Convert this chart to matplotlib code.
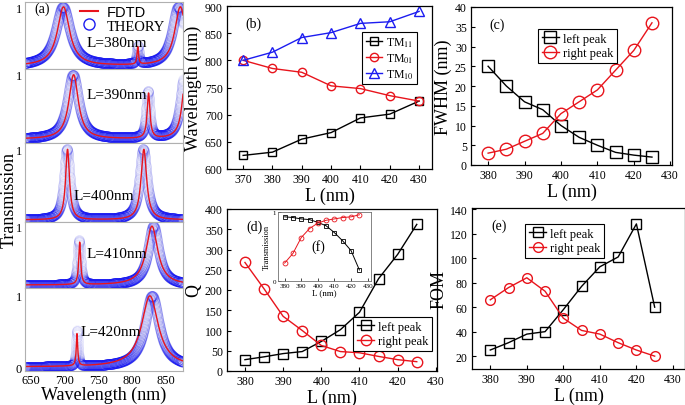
import numpy as np
import matplotlib.pyplot as plt
from matplotlib.lines import Line2D

plt.rcParams['font.family'] = ['Liberation Serif', 'DejaVu Serif']
plt.rcParams['mathtext.fontset'] = 'stix'

W, H = 685, 406
RED = '#e8141c'
BLUE = '#1c1cf0'

# ---- panel (a): transmission spectra, peaks (center, fwhm, height)
a_L = [380, 390, 400, 410, 420]
a_theory = [
    [(697, 26, 1.0), (808, 3.5, 0.30), (868, 22, 1.0)],
    [(712, 20, 1.0), (823, 6, 0.72), (877, 14, 1.0)],
    [(703, 10, 1.0), (816, 13, 1.0)],
    [(721, 5, 0.75), (831, 19, 1.0)],
    [(718, 3, 0.50), (829, 26, 1.0)],
]
a_fdtd = [
    [(698, 22, 1.0), (808, 2.5, 0.30), (871, 20, 1.0)],
    [(713, 17, 1.0), (824, 5, 0.70), (879, 12, 1.0)],
    [(704, 7, 1.0), (817, 10, 1.0)],
    [(722, 3.5, 0.72), (829, 21, 1.0)],
    [(718, 2.5, 0.45), (826, 30, 1.0)],
]
a_ylims = [(-0.05, 1.085), (-0.06, 1.09), (-0.03, 1.09), (-0.05, 1.07), (-0.056, 1.11)]
a_rows = [(3, 70), (70, 144), (144, 223), (223, 289), (289, 372)]
a_text = [(0.58, 0.40), (0.58, 0.66), (0.50, 0.33), (0.58, 0.52), (0.54, 0.48)]

# ---- panel (b): resonance wavelength vs L
b_L = [370, 380, 390, 400, 410, 420, 430]
b_tm11 = [625, 631, 655, 667, 694, 701, 725]
b_tm01 = [800, 785, 778, 753, 748, 735, 725]
b_tm10 = [800, 815, 842, 851, 868, 871, 890]

# ---- panels (c)-(f): vs L
L = [380, 385, 390, 395, 400, 405, 410, 415, 420, 425]
c_left = [25, 20, 16, 14, 10, 7, 5, 3.2, 2.5, 2]
c_right = [3, 4, 6, 8, 13, 16, 19, 24, 29, 36]
d_left = [28, 35, 43, 48, 73, 102, 145, 228, 288, 362]
d_right = [268, 203, 135, 100, 63, 48, 45, 36, 28, 23]
e_left = [25, 31, 38, 40, 58, 77, 93, 101, 128, 60]
e_right = [66, 76, 84, 73, 51, 41, 38, 31, 25, 20]
f_left = [0.93, 0.92, 0.90, 0.89, 0.85, 0.80, 0.70, 0.58, 0.44, 0.16]
f_right = [0.26, 0.40, 0.63, 0.76, 0.84, 0.88, 0.90, 0.92, 0.93, 0.96]


def box(l, t, r, b):
    return [l / W, 1 - b / H, (r - l) / W, (b - t) / H]


def spectrum(wl, peaks):
    t = np.zeros_like(wl)
    for c, w, h in peaks:
        t += h / (1 + (2 * (wl - c) / w) ** 2)
    return t


fig = plt.figure(figsize=(W / 100, H / 100), dpi=100)

wl = np.arange(641, 875.05, 0.1)
for i, (top, bot) in enumerate(a_rows):
    ax = fig.add_axes(box(25, top, 183, bot))
    ax.plot(wl, spectrum(wl, a_theory[i]), 'o', ms=7, mfc='none', mec=BLUE,
            mew=0.5, alpha=0.06)
    ax.plot(wl, spectrum(wl, a_fdtd[i]), color=RED, lw=1.0)
    ax.set_xlim(641, 875)
    ax.set_ylim(*a_ylims[i])
    for s in ax.spines.values():
        s.set_color('#b0b0b0')
    ax.text(*a_text[i], 'L=%dnm' % a_L[i], transform=ax.transAxes,
            ha='center', va='center', fontsize=11)
    ax.tick_params(length=0, labelsize=9, pad=2)
    if i == 4:
        ax.set_yticks([0, 1])
        ax.set_xticks([650, 700, 750, 800, 850])
        ax.set_xlabel('Wavelength (nm)', fontsize=13, labelpad=0)
    else:
        ax.set_yticks([1])
        ax.set_xticks([])
    if i == 0:
        ax.text(0.06, 0.85, '(a)', transform=ax.transAxes, fontsize=10)
        hs = [Line2D([], [], color=RED, lw=1.5),
              Line2D([], [], marker='o', ls='none', mfc='none', mec=BLUE, ms=8)]
        leg = ax.legend(hs, ['FDTD', 'THEORY'], loc='upper right',
                        bbox_to_anchor=(0.94, 1.08), frameon=False, fontsize=10.5,
                        handlelength=1.2, handletextpad=0.6, labelspacing=0.0,
                        borderpad=0.1)
        leg.get_texts()[0].set_family(['Liberation Sans'])
fig.text(9 / W, 1 - 200 / H, 'Transmission', rotation=90, ha='center',
         va='center', fontsize=13)


def style(ax, label):
    ax.tick_params(direction='in', labelsize=8.5, length=3, width=0.8, pad=3)
    for s in ax.spines.values():
        s.set_linewidth(0.9)
    ax.text(0.09, 0.87, label, transform=ax.transAxes, fontsize=10)


def legend(ax, anchor, size=9):
    leg = ax.legend(loc='upper left', bbox_to_anchor=anchor, borderaxespad=0,
                    fancybox=False, edgecolor='k', framealpha=1, fontsize=size,
                    handlelength=1.4, handletextpad=0.3, labelspacing=0.2,
                    borderpad=0.3)
    leg.get_frame().set_linewidth(0.8)


# (b)
ax = fig.add_axes(box(227, 7, 432, 170))
ax.plot(b_L, b_tm11, '-s', color='k', mfc='none', ms=6, lw=1, label='TM$_{11}$')
ax.plot(b_L, b_tm01, '-o', color=RED, mfc='none', ms=6, lw=1, label='TM$_{01}$')
ax.plot(b_L, b_tm10, '-^', color=BLUE, mfc='none', ms=6.5, lw=1, label='TM$_{10}$')
ax.set_xlim(364.5, 434.4)
ax.set_ylim(600, 900)
ax.set_xticks(b_L)
ax.set_yticks(range(600, 901, 50))
ax.set_xlabel('L (nm)', fontsize=13, labelpad=1)
ax.set_ylabel('Wavelength (nm)', fontsize=13, labelpad=2)
style(ax, '(b)')
legend(ax, (0.659, 0.84), 8.5)

# (c)
ax = fig.add_axes(box(471, 8, 672, 166))
ax.plot(L, c_left, '-s', color='k', mfc='none', ms=9, lw=1, label='left peak')
ax.plot(L, c_right, '-o', color=RED, mfc='none', ms=9, lw=1, label='right peak')
ax.set_xlim(375.3, 430.5)
ax.set_ylim(0, 40)
ax.set_xticks(range(380, 431, 10))
ax.set_yticks(range(0, 41, 5))
ax.set_xlabel('L (nm)', fontsize=13, labelpad=1)
ax.set_ylabel('FWHM (nm)', fontsize=13, labelpad=2)
style(ax, '(c)')
legend(ax, (0.333, 0.861))

# (d)
ax = fig.add_axes(box(227, 210, 437, 372))
ax.plot(L, d_left, '-s', color='k', mfc='none', ms=7.5, lw=1, label='left peak')
ax.plot(L, d_right, '-o', color=RED, mfc='none', ms=7.5, lw=1, label='right peak')
ax.set_xlim(375.3, 430.3)
ax.set_ylim(0, 400)
ax.set_xticks(range(380, 431, 10))
ax.set_yticks(range(0, 401, 50))
ax.set_xlabel('L (nm)', fontsize=13, labelpad=1)
ax.set_ylabel('Q', fontsize=13, labelpad=2)
style(ax, '(d)')
legend(ax, (0.60, 0.333))

# (f) inset
ax = fig.add_axes(box(278, 213, 371, 282))
ax.plot(L, f_left, '-s', color='k', mfc='none', ms=3.5, lw=0.7, mew=0.6)
ax.plot(L, f_right, '-o', color=RED, mfc='none', ms=3.5, lw=0.7, mew=0.6)
ax.set_xlim(376, 432)
ax.set_ylim(0, 1)
ax.set_xticks(range(380, 431, 10))
ax.set_yticks([0, 1])
ax.tick_params(direction='in', labelsize=5, length=2, width=0.5, pad=1.5)
for s in ax.spines.values():
    s.set_linewidth(0.6)
    s.set_color('#707070')
ax.set_xlabel('L (nm)', fontsize=6.5, labelpad=0)
ax.set_ylabel('Transmission', fontsize=6, labelpad=1)
ax.text(0.43, 0.51, '(f)', transform=ax.transAxes, ha='center', va='center',
        fontsize=10)

# (e)
ax = fig.add_axes(box(472, 209, 685, 370))
ax.plot(L, e_left, '-s', color='k', mfc='none', ms=7, lw=1, label='left peak')
ax.plot(L, e_right, '-o', color=RED, mfc='none', ms=7, lw=1, label='right peak')
ax.set_xlim(375, 433.3)
ax.set_ylim(9.5, 141)
ax.set_xticks(range(380, 431, 10))
ax.set_yticks(range(20, 141, 20))
ax.set_xlabel('L (nm)', fontsize=13, labelpad=1)
ax.set_ylabel('FOM', fontsize=13, labelpad=2)
style(ax, '(e)')
legend(ax, (0.249, 0.90))

fig.savefig('out.png', dpi=100)
